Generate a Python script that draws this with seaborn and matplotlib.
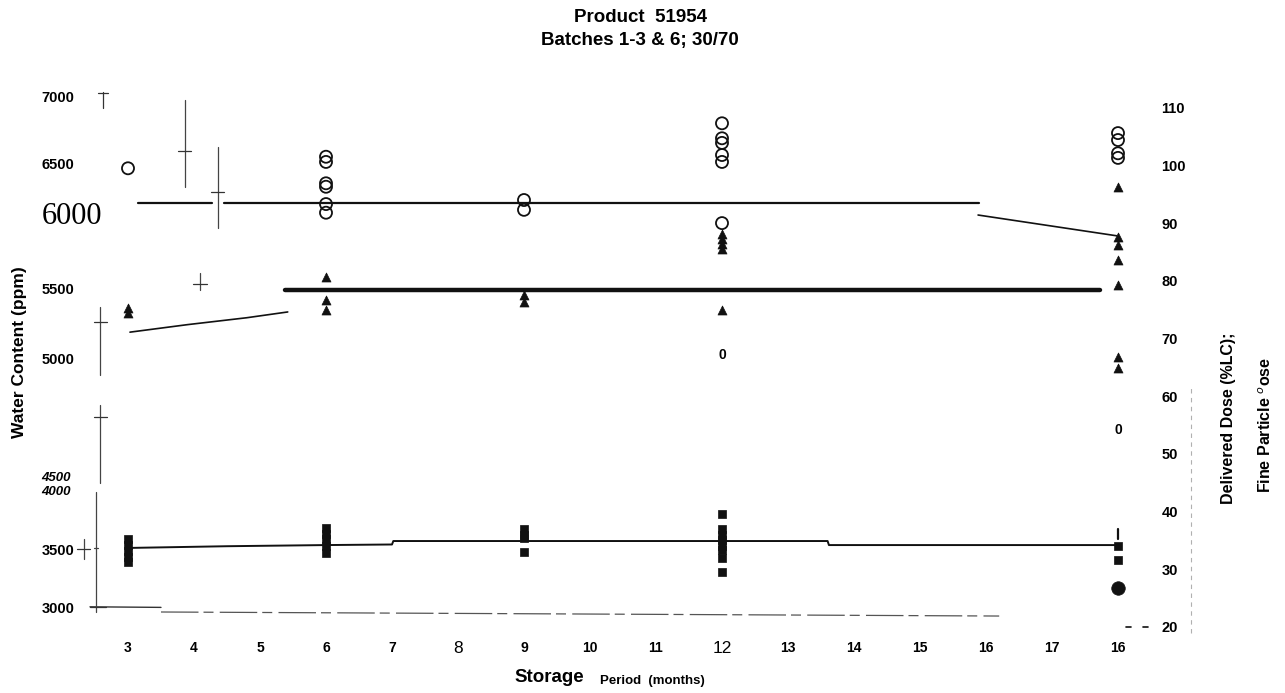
import matplotlib
matplotlib.use("Agg")
import matplotlib.pyplot as plt
import seaborn as sns

sns.set_theme(style="white")
plt.rcParams['font.family'] = ['Liberation Sans', 'DejaVu Sans']
plt.rcParams['text.color'] = 'black'
plt.rcParams['xtick.color'] = 'black'
plt.rcParams['ytick.color'] = 'black'

# ---- storage period categories (x positions are category indices) ----
x_labels = ["3", "4", "5", "6", "7", "8", "9", "10", "11", "12",
            "13", "14", "15", "16", "17", "16"]

# ---- delivered dose (%LC): open circles ----
dd_pos = [0, 3, 3, 3, 3, 3, 3, 6, 6, 9, 9, 9, 9, 9, 9, 15, 15, 15, 15]
dd_val = [99.5, 101.5, 100.6, 96.9, 96.3, 93.3, 91.8, 94.0, 92.3,
          107.3, 104.7, 103.9, 101.8, 100.6, 90.0, 105.6, 104.4, 102.1, 101.3]

# ---- fine particle dose: filled triangles ----
fpd_pos = [0, 0, 3, 3, 3, 6, 6, 9, 9, 9, 9, 9, 15, 15, 15, 15, 15, 15, 15]
fpd_val = [75.3, 74.4, 80.7, 76.7, 74.9, 77.5, 76.3, 88.1, 87.2, 86.4, 85.5, 74.9,
           96.3, 87.6, 86.2, 83.6, 79.3, 66.8, 64.9]

# ---- water content: filled squares, drawn on the dose scale ----
wc_pos = [0, 0, 0, 0, 0, 3, 3, 3, 3, 3, 6, 6, 6, 6,
          9, 9, 9, 9, 9, 9, 9, 9, 15, 15]
wc_val = [35.2, 34.2, 33.2, 32.2, 31.2, 37.2, 36.2, 35.2, 34.1, 32.9,
          36.9, 35.9, 35.4, 33.0, 39.6, 37.0, 36.0, 35.0, 34.0, 33.3, 32.0, 29.5,
          34.0, 31.6]
wc_low_pos = [15]
wc_low_val = [26.8]

# ---- trend lines ----
dd_line_a_x, dd_line_a_y = [0.15, 1.27], [93.5, 93.5]
dd_line_b_x, dd_line_b_y = [1.45, 12.9], [93.5, 93.5]
dd_slope_x, dd_slope_y = [12.88, 14.98], [91.4, 87.8]
fpd_line_x, fpd_line_y = [2.38, 14.73], [78.4, 78.4]
fpd_slope_x, fpd_slope_y = [0.03, 0.9, 1.8, 2.42], [71.1, 72.4, 73.6, 74.6]
wc_line_x = [0.0, 1.5, 3.0, 4.0, 4.02, 10.6, 10.62, 15.0]
wc_line_y = [33.7, 34.0, 34.2, 34.3, 34.9, 34.9, 34.2, 34.2]
base_line_x, base_line_y = [-0.576, 0.5], [23.5, 23.4]
base_dash_x, base_dash_y = [0.5, 6.0, 13.2], [22.6, 22.3, 21.9]

# ---- range marks (centre, low, high) ----
rng_pos = [0.86, 1.36, 1.09, -0.42, -0.42, -0.67]
rng_mid = [102.5, 95.4, 79.4, 72.9, 56.4, 33.5]
rng_lo = [96.3, 89.2, 78.4, 63.7, 45.0, 31.8]
rng_hi = [111.3, 103.2, 81.3, 75.5, 58.5, 35.2]

# ---- left axis: water content (ppm) labels on their printed heights ----
left_tick_pos = [112.0, 100.4, 91.75, 78.6, 66.6, 46.0, 43.6, 33.5, 23.3]
left_tick_lab = ["7000", "6500", "6000", "5500", "5000", "4500", "4000", "3500", "3000"]
right_ticks = [20, 30, 40, 50, 60, 70, 80, 90, 100, 110]

W, H = 1285, 693
fig = plt.figure(figsize=(W / 100, H / 100), dpi=100)
ax = fig.add_axes([75 / W, (H - 640) / H, (1135 - 75) / W, 550 / H])
ax.set_xlim((75 - 128) / 66, (1135 - 128) / 66)
ax.set_ylim(20 - 13 / 5.77, 20 + 537 / 5.77)

black = "#111111"

# trend lines
sns.lineplot(x=dd_line_a_x, y=dd_line_a_y, ax=ax, color=black, lw=1.6)
sns.lineplot(x=dd_line_b_x, y=dd_line_b_y, ax=ax, color=black, lw=1.6)
sns.lineplot(x=dd_slope_x, y=dd_slope_y, ax=ax, color=black, lw=1.2)
sns.lineplot(x=fpd_line_x, y=fpd_line_y, ax=ax, color=black, lw=3.2)
sns.lineplot(x=fpd_slope_x, y=fpd_slope_y, ax=ax, color=black, lw=1.2,
             sort=False, estimator=None)
sns.lineplot(x=wc_line_x, y=wc_line_y, ax=ax, color=black, lw=1.4,
             sort=False, estimator=None)
ax.plot(base_line_x, base_line_y, color="#333333", lw=1.0)
ax.plot(base_dash_x, base_dash_y, color="#555555", lw=0.9, dashes=(30, 4, 8, 5))

# range marks
for p, m, lo, hi in zip(rng_pos, rng_mid, rng_lo, rng_hi):
    ax.plot([p, p], [lo, hi], color="#444444", lw=0.9, clip_on=False)
    ax.plot([p - 0.1, p + 0.1], [m, m], color="#333333", lw=0.9, clip_on=False)
# left axis fragments
ax.plot([-0.485, -0.485], [22.6, 43.4], color="#444444", lw=0.9)
ax.plot([-0.52, -0.45], [33.7, 33.7], color="#444444", lw=0.9)
ax.plot([-0.38, -0.38], [110.0, 112.7], color="#333333", lw=0.9)
ax.plot([-0.45, -0.31], [112.6, 112.6], color="#333333", lw=0.9)
ax.plot([-0.58, -0.34], [23.5, 23.5], color="#333333", lw=0.9)
# right-hand dashes and faint guide
ax.plot([15.12, 15.2], [20, 20], color=black, lw=1.2, clip_on=False)
ax.plot([15.38, 15.46], [20, 20], color=black, lw=1.2, clip_on=False)
ax.plot([16.1, 16.1], [19.0, 62.0], color="#b0b0b0", lw=0.8, ls=(0, (4, 4)),
        clip_on=False)
ax.plot([15.0, 15.0], [35.3, 36.9], color=black, lw=1.6)

# markers
sns.scatterplot(x=dd_pos, y=dd_val, ax=ax, marker="o", s=75,
                facecolor="none", edgecolor=black, linewidth=1.3, zorder=5)
sns.scatterplot(x=fpd_pos, y=fpd_val, ax=ax, marker="^", s=42,
                color=black, edgecolor=black, linewidth=0.5, zorder=5)
sns.scatterplot(x=wc_pos, y=wc_val, ax=ax, marker="s", s=40,
                color=black, edgecolor=black, linewidth=0.5, zorder=5)
sns.scatterplot(x=wc_low_pos, y=wc_low_val, ax=ax, marker="o", s=95,
                color=black, edgecolor=black, linewidth=0.5, zorder=5)

# stray zero labels
ax.text(9, 67.1, "0", ha="center", va="center", fontsize=10, fontweight="bold")
ax.text(15, 54.1, "0", ha="center", va="center", fontsize=10, fontweight="bold")

# x axis
ax.set_xticks(range(len(x_labels)))
ax.set_xticklabels(x_labels, fontsize=10, fontweight="bold")
for t in ax.get_xticklabels():
    if t.get_text() in ("8", "12") and t.get_position()[0] in (5, 9):
        t.set_fontsize(12.5)
        t.set_fontweight("normal")
ax.tick_params(axis="x", length=0, pad=1)

# left y labels
ax.set_yticks(left_tick_pos)
ax.set_yticklabels(left_tick_lab, fontsize=10.5, fontweight="bold", ha="left")
ax.tick_params(axis="y", length=0, pad=24)
for t in ax.get_yticklabels():
    if t.get_text() == "6000":
        t.set_family("Liberation Serif")
        t.set_fontweight("normal")
        t.set_fontsize(22)
    if t.get_text() in ("4500", "4000"):
        t.set_fontstyle("italic")
        t.set_fontsize(9.5)

for s in ax.spines.values():
    s.set_visible(False)

# right y labels
ax2 = ax.twinx()
ax2.set_ylim(ax.get_ylim())
ax2.set_yticks(right_ticks)
ax2.set_yticklabels([str(v) for v in right_ticks], fontsize=10.5, fontweight="bold")
ax2.tick_params(axis="y", length=0, pad=19)
for s in ax2.spines.values():
    s.set_visible(False)
ax2.grid(False)
ax.grid(False)

# titles and axis captions
fig.text(640 / W, 1 - 17 / H, "Product  51954", ha="center", va="center",
         fontsize=13.5, fontweight="bold")
fig.text(640 / W, 1 - 40 / H, "Batches 1-3 & 6; 30/70", ha="center", va="center",
         fontsize=13.5, fontweight="bold")
fig.text(20 / W, 1 - 352 / H, "Water Content (ppm)", rotation=90, ha="center",
         va="center", fontsize=12.5, fontweight="bold")
fig.text(1228 / W, 1 - 418 / H, "Delivered Dose (%LC);", rotation=90, ha="center",
         va="center", fontsize=11.5, fontweight="bold")
fig.text(1266 / W, 1 - 425 / H, "Fine Particle $^{\\mathit{o}}$ose", rotation=90,
         ha="center", va="center", fontsize=11.5, fontweight="bold")
fig.text(549 / W, 1 - 678 / H, "Storage", ha="center", va="center",
         fontsize=13.5, fontweight="bold")
fig.text(600 / W, 1 - 681 / H, "Period  (months)", ha="left", va="center",
         fontsize=9.5, fontweight="bold")

fig.savefig("out.png", dpi=100)
